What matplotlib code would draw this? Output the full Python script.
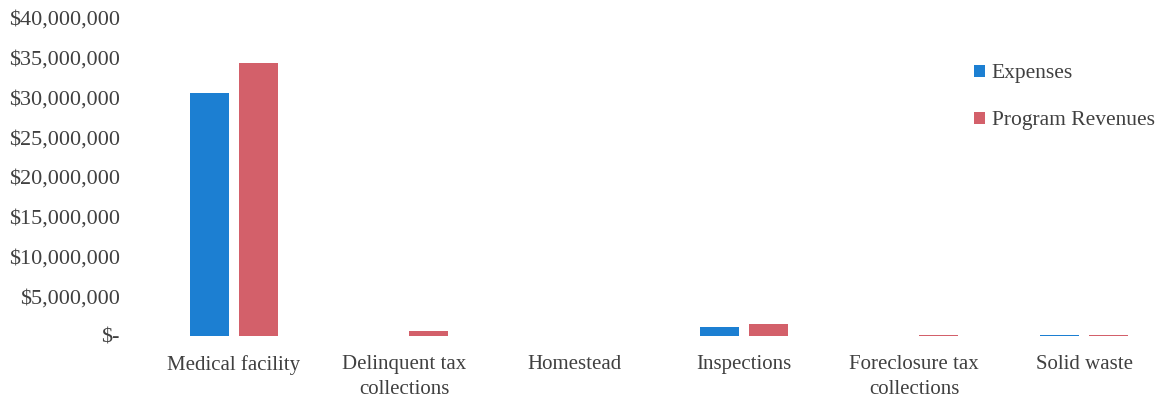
import numpy as np
import matplotlib.pyplot as plt
from matplotlib.ticker import FuncFormatter

categories = ['Medical facility', 'Delinquent tax\ncollections', 'Homestead',
              'Inspections', 'Foreclosure tax\ncollections', 'Solid waste']
expenses = [30600000, 0, 0, 1100000, 0, 180000]
revenues = [34400000, 600000, 0, 1450000, 120000, 140000]

blue = '#1c7fd2'
red = '#d3606a'
txt = '#404040'

plt.rcParams['font.family'] = ['Liberation Serif', 'DejaVu Serif']

fig = plt.figure(figsize=(11.69, 3.98), dpi=100)
ax = fig.add_axes([149 / 1169, 1 - 336 / 398, 1 - 149 / 1169, (336 - 18) / 398])

x = np.arange(len(categories))
w = 0.23
ax.bar(x - 0.145, expenses, w, color=blue, label='Expenses')
ax.bar(x + 0.145, revenues, w, color=red, label='Program Revenues')

ax.set_xlim(-0.5, len(categories) - 0.5)
ax.set_ylim(0, 40000000)
ax.set_yticks(np.arange(0, 40000001, 5000000))

def fmt(v, pos):
    if v == 0:
        return '$-'
    return '${:,.0f}'.format(v)

ax.yaxis.set_major_formatter(FuncFormatter(fmt))
ax.set_xticks(x)
ax.set_xticklabels(categories, fontsize=15, color=txt, linespacing=1.4)
ax.tick_params(axis='y', labelsize=16, labelcolor=txt, length=0, pad=21)
ax.tick_params(axis='x', length=0, pad=14)
for s in ax.spines.values():
    s.set_visible(False)

fig.legend(loc='upper left', bbox_to_anchor=(955 / 1169, 1 - 45 / 398),
           frameon=False, fontsize=15.5, handlelength=0.5, handleheight=0.5,
           handletextpad=0.3, labelspacing=1.3, labelcolor=txt)

fig.savefig('out.png', dpi=100)
